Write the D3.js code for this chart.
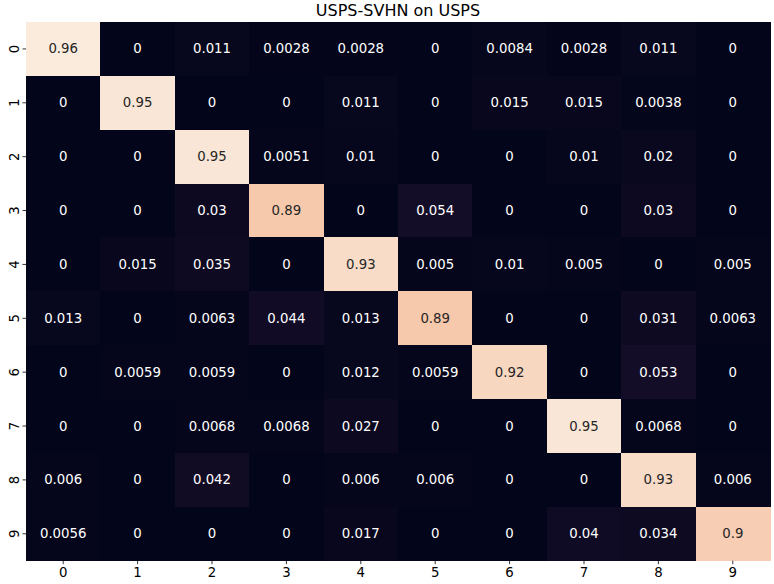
<!DOCTYPE html>
<html><head><meta charset="utf-8">
<script src="https://cdn.jsdelivr.net/npm/d3@7"></script>
<style>body{margin:0;background:#fff;} text{font-family:"DejaVu Sans",sans-serif;}</style>
</head><body><svg id="chart" width="774" height="584"></svg>
<script>
const title = "USPS-SVHN on USPS";
const rowLabels = ["0","1","2","3","4","5","6","7","8","9"];
const colLabels = ["0","1","2","3","4","5","6","7","8","9"];
const row0 = [0.96, 0, 0.011, 0.0028, 0.0028, 0, 0.0084, 0.0028, 0.011, 0];
const row1 = [0, 0.95, 0, 0, 0.011, 0, 0.015, 0.015, 0.0038, 0];
const row2 = [0, 0, 0.95, 0.0051, 0.01, 0, 0, 0.01, 0.02, 0];
const row3 = [0, 0, 0.03, 0.89, 0, 0.054, 0, 0, 0.03, 0];
const row4 = [0, 0.015, 0.035, 0, 0.93, 0.005, 0.01, 0.005, 0, 0.005];
const row5 = [0.013, 0, 0.0063, 0.044, 0.013, 0.89, 0, 0, 0.031, 0.0063];
const row6 = [0, 0.0059, 0.0059, 0, 0.012, 0.0059, 0.92, 0, 0.053, 0];
const row7 = [0, 0, 0.0068, 0.0068, 0.027, 0, 0, 0.95, 0.0068, 0];
const row8 = [0.006, 0, 0.042, 0, 0.006, 0.006, 0, 0, 0.93, 0.006];
const row9 = [0.0056, 0, 0, 0, 0.017, 0, 0, 0.04, 0.034, 0.9];
const matrix = [row0,row1,row2,row3,row4,row5,row6,row7,row8,row9];

// approximate seaborn "rocket" colormap
const rocketStops = ["#03051a","#221331","#451c47","#6b1f56","#921c5b","#b91657","#dd2c45","#f06043","#f58860","#f5bb9a","#faebdd"];
const rocket = d3.scaleLinear().domain(d3.range(rocketStops.length).map(i=>i/(rocketStops.length-1))).range(rocketStops).interpolate(d3.interpolateRgb).clamp(true);

const svg = d3.select("#chart");
const margin = {left:26, top:22, right:4, bottom:23.3};
const W = 774 - margin.left - margin.right, H = 584 - margin.top - margin.bottom;
const x = d3.scaleBand().domain(colLabels).range([margin.left, margin.left+W]);
const y = d3.scaleBand().domain(rowLabels).range([margin.top, margin.top+H]);
const flat = matrix.flat();
const vmin = d3.min(flat), vmax = d3.max(flat);
const norm = d3.scaleLinear().domain([vmin, vmax]).range([0,1]);

const cells = [];
matrix.forEach((r,i)=>r.forEach((v,j)=>cells.push({r:rowLabels[i], c:colLabels[j], v})));

svg.append("g").attr("shape-rendering","crispEdges").selectAll("rect").data(cells).join("rect")
  .attr("x", d=>x(d.c)).attr("y", d=>y(d.r))
  .attr("width", x.bandwidth()+0.6).attr("height", y.bandwidth()+0.6)
  .attr("fill", d=>rocket(norm(d.v)));

function lum(c){
  const rgb = d3.rgb(c);
  const f = v=>{v/=255; return v<=0.03928? v/12.92 : Math.pow((v+0.055)/1.055,2.4);};
  return 0.2126*f(rgb.r)+0.7152*f(rgb.g)+0.0722*f(rgb.b);
}
function fmt(v){ return v===0 ? "0" : d3.format(".2~g")(v); }

svg.append("g").selectAll("text").data(cells).join("text")
  .attr("x", d=>x(d.c)+x.bandwidth()/2).attr("y", d=>y(d.r)+y.bandwidth()/2)
  .attr("text-anchor","middle").attr("dominant-baseline","central")
  .attr("font-size","13.3px")
  .attr("fill", d=> lum(rocket(norm(d.v)))>0.408 ? "#262626" : "#ffffff")
  .text(d=>fmt(d.v));

const xAxis = svg.append("g").attr("transform",`translate(0,${margin.top+H})`)
  .call(d3.axisBottom(x).tickSize(3.5).tickPadding(3.5));
xAxis.select(".domain").remove();
xAxis.selectAll("text").attr("font-size","13.3px").attr("fill","#000").style("font-family","DejaVu Sans");
xAxis.selectAll("line").attr("stroke","#000").attr("stroke-width",0.8);

const yAxis = svg.append("g").attr("transform",`translate(${margin.left},0)`)
  .call(d3.axisLeft(y).tickSize(3.5).tickPadding(3.5));
yAxis.select(".domain").remove();
yAxis.selectAll("line").attr("stroke","#000").attr("stroke-width",0.8);
yAxis.selectAll("text").attr("font-size","13.3px").attr("fill","#000").style("font-family","DejaVu Sans")
  .attr("x",null).attr("dy",null)
  .attr("text-anchor","middle").attr("dominant-baseline","central")
  .attr("transform","translate(-12,0) rotate(-90)");

svg.append("text").attr("x", margin.left+W/2).attr("y", 16)
  .attr("text-anchor","middle").attr("font-size","16px").attr("fill","#000").text(title);
</script></body></html>
